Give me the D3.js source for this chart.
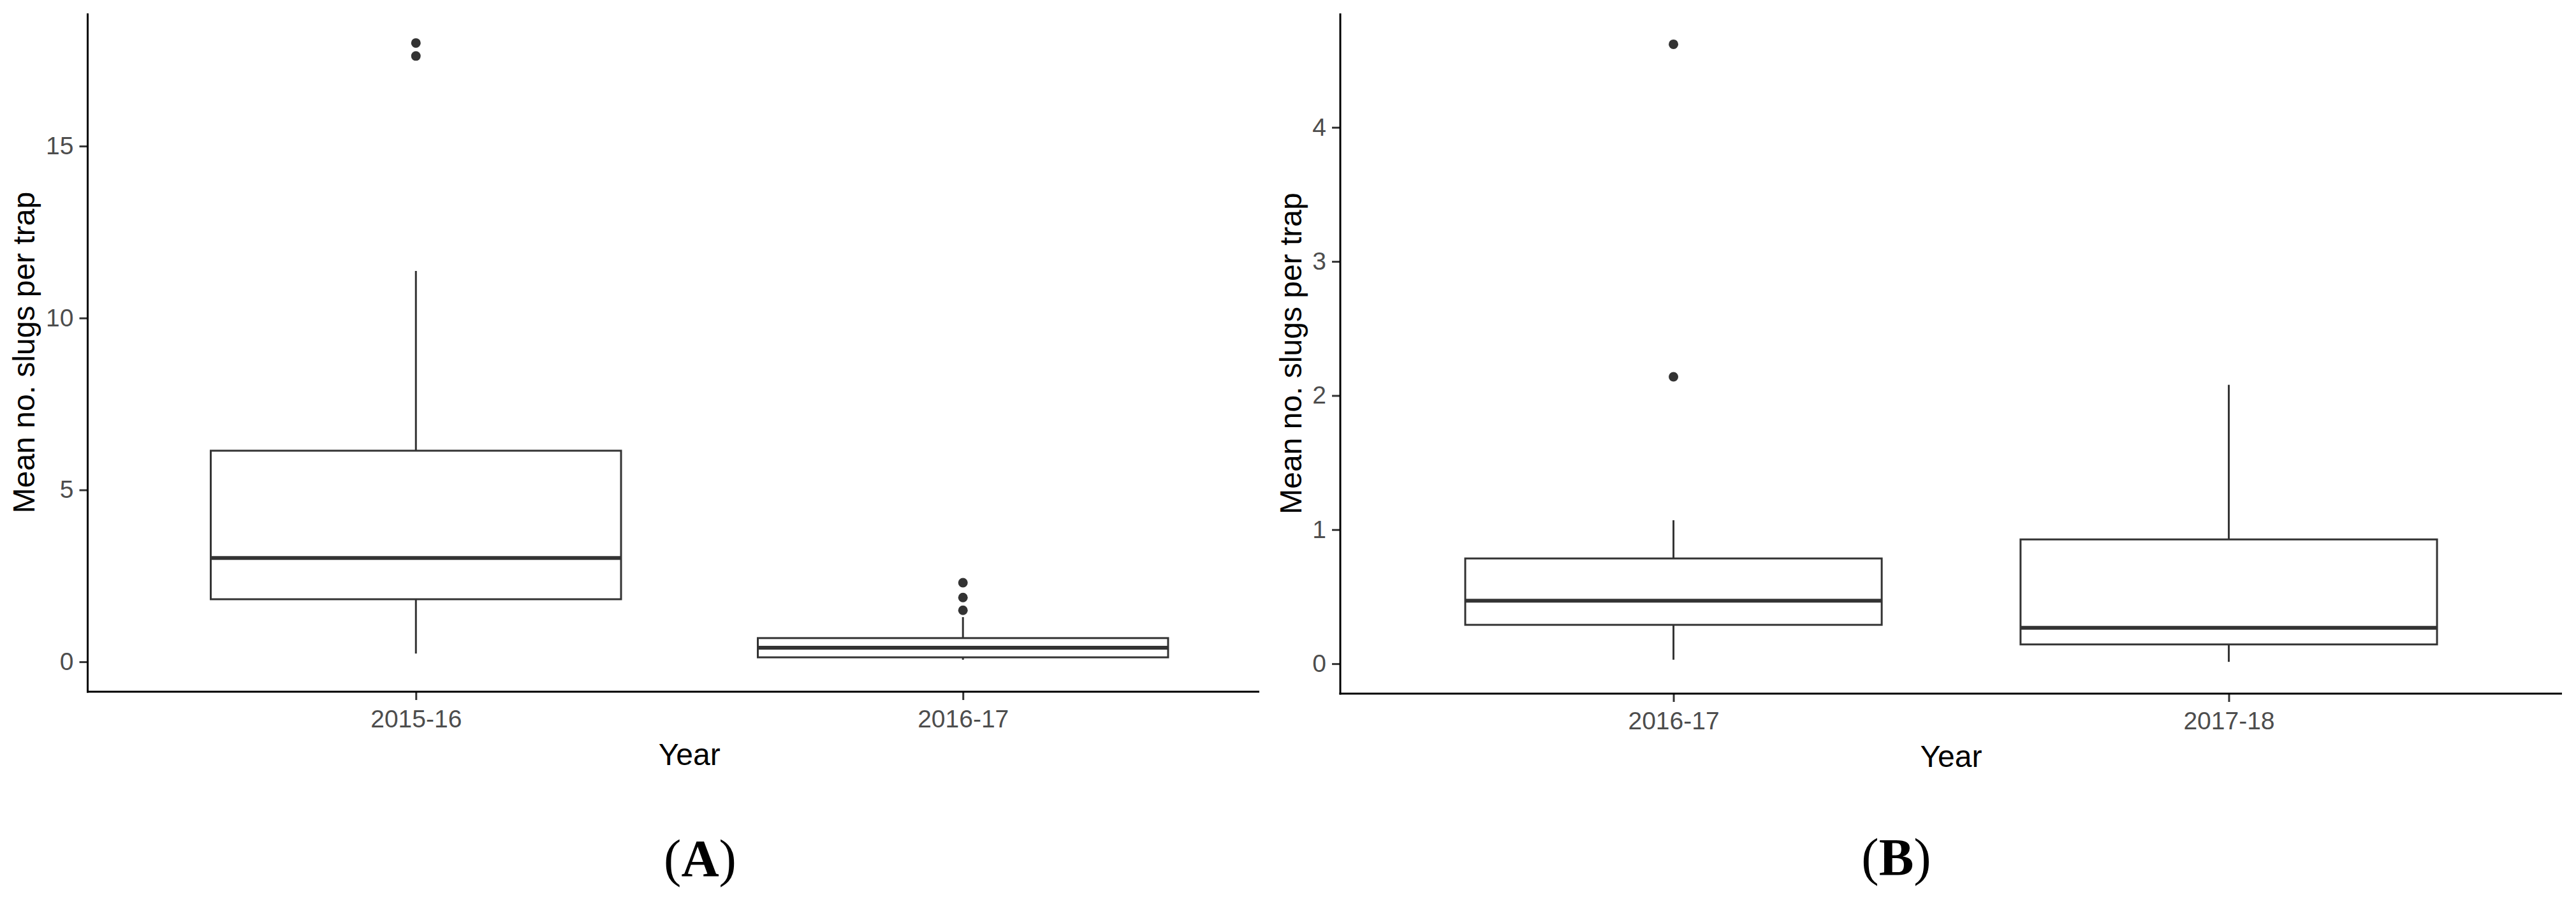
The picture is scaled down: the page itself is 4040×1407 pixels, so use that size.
<!DOCTYPE html>
<html>
<head>
<meta charset="utf-8">
<script src="https://cdn.jsdelivr.net/npm/d3@7"></script>
<style>
  html, body { margin: 0; padding: 0; background: #ffffff; }
  svg { display: block; }
</style>
</head>
<body>
<script>
// ---------- Data ----------
const panelACategories   = ["2015-16", "2016-17"];
const panelAWhiskerLow   = [0.24, 0.06];
const panelAQ1           = [1.82, 0.13];
const panelAMedian       = [3.02, 0.41];
const panelAQ3           = [6.14, 0.69];
const panelAWhiskerHigh  = [11.37, 1.30];
const panelAOutliers     = [[18.0, 17.62], [2.30, 1.87, 1.50]];
const panelAYTicks       = [0, 5, 10, 15];
const panelAYDomain      = [-0.87, 18.86];

const panelBCategories   = ["2016-17", "2017-18"];
const panelBWhiskerLow   = [0.03, 0.014];
const panelBQ1           = [0.29, 0.144];
const panelBMedian       = [0.47, 0.268];
const panelBQ3           = [0.785, 0.927];
const panelBWhiskerHigh  = [1.07, 2.08];
const panelBOutliers     = [[4.62, 2.14], []];
const panelBYTicks       = [0, 1, 2, 3, 4];
const panelBYDomain      = [-0.223, 4.85];

const xTitle = "Year";
const yTitle = "Mean no. slugs per trap";
const panelLabels = ["A", "B"];

// ---------- Drawing ----------
const W = 4040, H = 1407;
const svg = d3.select("body").append("svg")
  .attr("width", W).attr("height", H)
  .attr("xmlns", "http://www.w3.org/2000/svg");
svg.append("rect").attr("width", W).attr("height", H).attr("fill", "#ffffff");

const SANS = "'Liberation Sans', Arial, sans-serif";
const SERIF = "'Liberation Serif', 'Times New Roman', serif";

function drawPanel(cfg) {
  const g = svg.append("g");
  const cats = cfg.categories;
  const x = d3.scaleLinear().domain([0.4, cats.length + 0.6]).range([cfg.left, cfg.right]);
  const y = d3.scaleLinear().domain(cfg.yDomain).range([cfg.bottom, cfg.top]);
  const boxW = 0.75;

  // boxes
  cats.forEach((c, i) => {
    const cx = x(i + 1);
    const x0 = x(i + 1 - boxW / 2), x1 = x(i + 1 + boxW / 2);
    const bg = g.append("g");
    bg.append("line").attr("x1", cx).attr("x2", cx)
      .attr("y1", y(cfg.q3[i])).attr("y2", y(cfg.wHigh[i]))
      .attr("stroke", "#333333").attr("stroke-width", 3);
    bg.append("line").attr("x1", cx).attr("x2", cx)
      .attr("y1", y(cfg.q1[i])).attr("y2", y(cfg.wLow[i]))
      .attr("stroke", "#333333").attr("stroke-width", 3);
    bg.append("rect").attr("x", x0).attr("width", x1 - x0)
      .attr("y", y(cfg.q3[i])).attr("height", y(cfg.q1[i]) - y(cfg.q3[i]))
      .attr("fill", "#ffffff").attr("stroke", "#333333").attr("stroke-width", 3);
    bg.append("line").attr("x1", x0).attr("x2", x1)
      .attr("y1", y(cfg.median[i])).attr("y2", y(cfg.median[i]))
      .attr("stroke", "#333333").attr("stroke-width", 6);
    bg.selectAll("circle.out").data(cfg.outliers[i]).enter().append("circle")
      .attr("class", "out")
      .attr("cx", cx).attr("cy", d => y(d)).attr("r", 7.5)
      .attr("fill", "#333333");
  });

  // y axis
  const yAxis = d3.axisLeft(y).tickValues(cfg.yTicks).tickFormat(d3.format("d"))
    .tickSize(13).tickPadding(9);
  const ya = g.append("g").attr("transform", `translate(${cfg.left},0)`).call(yAxis);
  ya.select(".domain").remove();
  ya.selectAll(".tick line").attr("stroke", "#333333").attr("stroke-width", 3);
  ya.selectAll(".tick text").attr("fill", "#4d4d4d")
    .style("font-family", SANS).style("font-size", "39px");

  // x axis
  const xAxis = d3.axisBottom(x).tickValues(cats.map((c, i) => i + 1))
    .tickFormat((d) => cats[d - 1]).tickSize(13).tickPadding(15);
  const xa = g.append("g").attr("transform", `translate(0,${cfg.bottom})`).call(xAxis);
  xa.select(".domain").remove();
  xa.selectAll(".tick line").attr("stroke", "#333333").attr("stroke-width", 3);
  xa.selectAll(".tick text").attr("fill", "#4d4d4d")
    .style("font-family", SANS).style("font-size", "39px");

  // axis lines
  g.append("line").attr("x1", cfg.left).attr("x2", cfg.left)
    .attr("y1", cfg.top).attr("y2", cfg.bottom + 1.5)
    .attr("stroke", "#000000").attr("stroke-width", 3);
  g.append("line").attr("x1", cfg.left - 1.5).attr("x2", cfg.xLineEnd)
    .attr("y1", cfg.bottom).attr("y2", cfg.bottom)
    .attr("stroke", "#000000").attr("stroke-width", 3);

  // titles
  g.append("text").attr("x", (cfg.left + cfg.right) / 2).attr("y", cfg.xTitleY)
    .attr("text-anchor", "middle").attr("fill", "#000000")
    .style("font-family", SANS).style("font-size", "48px").text(xTitle);
  g.append("text")
    .attr("transform", `translate(${cfg.yTitleX},${(cfg.top + cfg.bottom) / 2}) rotate(-90)`)
    .attr("text-anchor", "middle").attr("fill", "#000000")
    .style("font-family", SANS).style("font-size", "48px").text(yTitle);

  // panel label
  const lab = g.append("text").attr("x", cfg.labelX).attr("y", cfg.labelY)
    .attr("text-anchor", "middle").attr("fill", "#000000")
    .style("font-family", SERIF).style("font-size", "82px");
  lab.append("tspan").text("(");
  lab.append("tspan").attr("font-weight", "bold").text(cfg.label);
  lab.append("tspan").text(")");
}

drawPanel({
  categories: panelACategories, wLow: panelAWhiskerLow, q1: panelAQ1, median: panelAMedian,
  q3: panelAQ3, wHigh: panelAWhiskerHigh, outliers: panelAOutliers,
  yTicks: panelAYTicks, yDomain: panelAYDomain,
  left: 137.5, right: 2025, xLineEnd: 1975, top: 21, bottom: 1085,
  xTitleY: 1200, yTitleX: 54, label: panelLabels[0], labelX: 1098, labelY: 1374
});

drawPanel({
  categories: panelBCategories, wLow: panelBWhiskerLow, q1: panelBQ1, median: panelBMedian,
  q3: panelBQ3, wHigh: panelBWhiskerHigh, outliers: panelBOutliers,
  yTicks: panelBYTicks, yDomain: panelBYDomain,
  left: 2102, right: 4018, xLineEnd: 4018, top: 21, bottom: 1088,
  xTitleY: 1203, yTitleX: 2041, label: panelLabels[1], labelX: 2974, labelY: 1372
});
</script>
</body>
</html>
